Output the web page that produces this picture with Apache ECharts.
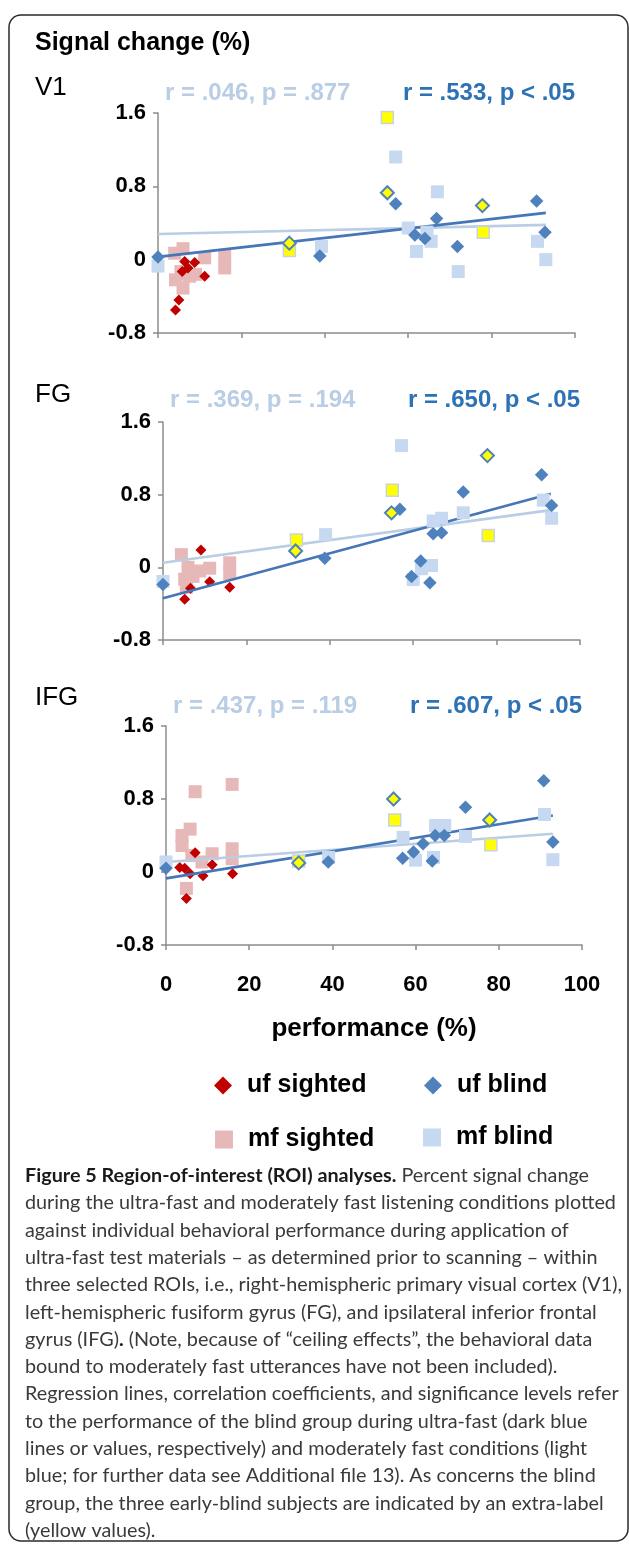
<!DOCTYPE html>
<html><head><meta charset="utf-8">
<script src="https://cdn.jsdelivr.net/npm/echarts@6/dist/echarts.min.js"></script>
<style>html,body{margin:0;padding:0;background:#fff}#c{width:629px;height:1545px}</style>
</head><body><div id="c"></div>
<script>
// ---------- DATA ----------
const xTicks = [0, 20, 40, 60, 80, 100];
const yTicks = [-0.8, 0, 0.8, 1.6];
const panelNames = ['V1', 'FG', 'IFG'];
const statsMf = ['r = .046, p = .877', 'r = .369, p = .194', 'r = .437, p = .119'];
const statsUf = ['r = .533, p < .05', 'r = .650, p < .05', 'r = .607, p < .05'];

// V1
const v1UfSighted = [[4.2,-0.55],[5.0,-0.44],[5.8,-0.13],[6.4,-0.02],[7.2,-0.09],[8.8,-0.03],[11.2,-0.18]];
const v1MfSighted = [[4.0,0.07],[6.0,0.12],[4.2,-0.22],[6.0,-0.31],[7.6,-0.18],[5.5,-0.13],[9.0,-0.16],[7.0,-0.16],[11.2,0.02],[16,0.04],[16,-0.09]];
const v1UfBlind = [[0,0.03],[38.8,0.04],[57,0.61],[61.6,0.27],[64,0.23],[66.8,0.45],[71.8,0.145],[90.8,0.64],[92.8,0.30]];
const v1UfBlindEarly = [[31.5,0.18],[55,0.73],[77.8,0.59]];
const v1MfBlind = [[0,-0.07],[39.2,0.145],[57,1.12],[60,0.345],[62,0.09],[64.5,0.30],[65.5,0.20],[67,0.74],[72,-0.13],[91,0.20],[93,0.0]];
const v1MfBlindEarly = [[31.5,0.10],[55,1.55],[78,0.30]];
const v1UfFit = [[0,0.03],[93,0.51]];
const v1MfFit = [[0,0.28],[93,0.38]];

// FG
const fgUfSighted = [[5.2,-0.35],[9.1,0.19],[16,-0.22],[11.2,-0.16],[6.6,-0.23]];
const fgMfSighted = [[4.4,0.14],[6,0.0],[8.8,-0.04],[11.2,-0.01],[16,0.05],[16,-0.07],[5.2,-0.13],[7.2,-0.10],[5.6,-0.22]];
const fgUfBlind = [[0,-0.19],[38.8,0.10],[56.8,0.64],[59.6,-0.10],[61.8,0.07],[64,-0.17],[64.8,0.37],[66.8,0.38],[72,0.83],[90.8,1.02],[93.2,0.68]];
const fgUfBlindEarly = [[31.8,0.18],[54.8,0.60],[77.8,1.23]];
const fgMfBlind = [[0,-0.155],[39,0.36],[57.2,1.34],[60,-0.135],[62,-0.015],[64.4,0.02],[64.8,0.51],[66.8,0.54],[72,0.60],[91.2,0.74],[93.2,0.54]];
const fgMfBlindEarly = [[32,0.30],[55,0.85],[78,0.35]];
const fgUfFit = [[0,-0.34],[93,0.81]];
const fgMfFit = [[0,0.05],[93,0.63]];

// IFG
const ifgUfSighted = [[3.3,0.05],[4.5,0.04],[5.8,-0.02],[7.0,0.21],[8.9,-0.04],[11.1,0.08],[16,-0.02],[4.9,-0.29]];
const ifgMfSighted = [[7.0,0.88],[15.9,0.96],[3.85,0.40],[5.8,0.47],[3.85,0.29],[11.1,0.20],[8.65,0.11],[15.9,0.255],[15.9,0.145],[4.9,-0.18],[6.2,0.18]];
const ifgUfBlind = [[0,0.04],[39,0.11],[56.9,0.15],[59.5,0.22],[61.8,0.31],[64,0.12],[64.7,0.40],[66.9,0.40],[72,0.71],[90.8,1.0],[93,0.33]];
const ifgUfBlindEarly = [[31.9,0.10],[54.7,0.80],[77.8,0.57]];
const ifgMfBlind = [[0,0.11],[39.1,0.16],[57,0.38],[60,0.13],[64.3,0.16],[64.8,0.51],[67,0.51],[72,0.39],[91,0.63],[93,0.135]];
const ifgMfBlindEarly = [[31.9,0.12],[55,0.57],[78.1,0.30]];
const ifgUfFit = [[0,-0.07],[93,0.62]];
const ifgMfFit = [[0,0.11],[93,0.42]];

const captionLines = [
  '{b|Figure 5 Region-of-interest (ROI) analyses.} Percent signal change',
  'during the ultra-fast and moderately fast listening conditions plotted',
  'against individual behavioral performance during application of',
  'ultra-fast test materials \u2013 as determined prior to scanning \u2013 within',
  'three selected ROIs, i.e., right-hemispheric primary visual cortex (V1),',
  'left-hemispheric fusiform gyrus (FG), and ipsilateral inferior frontal',
  'gyrus (IFG){b|.} (Note, because of \u201cceiling effects\u201d, the behavioral data',
  'bound to moderately fast utterances have not been included).',
  'Regression lines, correlation coefficients, and significance levels refer',
  'to the performance of the blind group during ultra-fast (dark blue',
  'lines or values, respectively) and moderately fast conditions (light',
  'blue; for further data see Additional file 13). As concerns the blind',
  'group, the three early-blind subjects are indicated by an extra-label',
  '(yellow values).'
];

// ---------- STYLE / LAYOUT ----------
const panels = [
  {grid:{left:158, top:113, width:417, height:220}, label:88, stat:93,
   ufS:v1UfSighted, mfS:v1MfSighted, ufB:v1UfBlind, ufE:v1UfBlindEarly, mfB:v1MfBlind, mfE:v1MfBlindEarly, ufF:v1UfFit, mfF:v1MfFit},
  {grid:{left:163, top:422, width:417, height:218}, label:395, stat:400,
   ufS:fgUfSighted, mfS:fgMfSighted, ufB:fgUfBlind, ufE:fgUfBlindEarly, mfB:fgMfBlind, mfE:fgMfBlindEarly, ufF:fgUfFit, mfF:fgMfFit},
  {grid:{left:166, top:726, width:416, height:219}, label:698, stat:706,
   ufS:ifgUfSighted, mfS:ifgMfSighted, ufB:ifgUfBlind, ufE:ifgUfBlindEarly, mfB:ifgMfBlind, mfE:ifgMfBlindEarly, ufF:ifgUfFit, mfF:ifgMfFit}
];
const C = {red:'#C00000', pink:'#E6B9B8', blue:'#4F81BD', light:'#C6D9F1', yellow:'#FFFF00',
           ufLine:'#4576B8', mfLine:'#B9CDE5', ufText:'#2C72B5', mfText:'#B9CDE5', axis:'#8C8C8C'};
const FONT = '"Liberation Sans", Arial, sans-serif';

const grids = [], xAxes = [], yAxes = [], series = [], graphic = [];
panels.forEach((p, i) => {
  grids.push(Object.assign({containLabel:false, outerBoundsMode:'none'}, p.grid));
  const last = i === panels.length - 1;
  xAxes.push({
    type:'value', gridIndex:i, min:xTicks[0], max:xTicks[xTicks.length-1], interval:xTicks[1]-xTicks[0],
    splitLine:{show:false},
    axisLine:{show:true, onZero:false, lineStyle:{color:C.axis, width:1.5}},
    axisTick:{show:true, length:5, lineStyle:{color:C.axis, width:1.5}},
    axisLabel:{show:last, margin:29, color:'#000', fontFamily:FONT, fontWeight:'bold', fontSize:22},
    name: last ? 'performance (%)' : '', nameLocation:'middle', nameGap:71,
    nameTextStyle:{color:'#000', fontFamily:FONT, fontWeight:'bold', fontSize:26}
  });
  yAxes.push({
    type:'value', gridIndex:i, min:yTicks[0], max:yTicks[yTicks.length-1], interval:yTicks[1]-yTicks[0],
    splitLine:{show:false},
    axisLine:{show:true, onZero:false, lineStyle:{color:C.axis, width:1.5}},
    axisTick:{show:true, length:5, lineStyle:{color:C.axis, width:1.5}},
    axisLabel:{margin:12, color:'#000', fontFamily:FONT, fontWeight:'bold', fontSize:22,
               formatter: v => String(Math.round(v*10)/10)}
  });
  const sc = (name, data, sym, size, color, bc, bw, z) => ({
    type:'scatter', name, data, xAxisIndex:i, yAxisIndex:i, symbol:sym, symbolSize:size, z,
    itemStyle:{color, borderColor:bc || color, borderWidth:bw || 0, opacity:1}, emphasis:{disabled:true}, silent:true
  });
  const ln = (name, data, color, z) => ({
    type:'line', name, data, xAxisIndex:i, yAxisIndex:i, showSymbol:false, symbol:'none', z,
    lineStyle:{color, width:2.6}, silent:true
  });
  series.push(sc('mf sighted', p.mfS, 'rect', 13, C.pink, null, 0, 2));
  series.push(sc('uf sighted', p.ufS, 'diamond', 11, C.red, null, 0, 3));
  series.push(ln('mf fit', p.mfF, C.mfLine, 4));
  series.push(ln('uf fit', p.ufF, C.ufLine, 4));
  series.push(sc('mf blind', p.mfB, 'rect', 13, C.light, null, 0, 5));
  series.push(sc('uf blind', p.ufB, 'diamond', 13.5, C.blue, null, 0, 6));
  series.push(sc('mf blind early', p.mfE, 'rect', 12, C.yellow, '#C9D3DE', 1.5, 7));
  series.push(sc('uf blind early', p.ufE, 'diamond', 13, C.yellow, C.blue, 2, 8));

  graphic.push({type:'text', x:35, y:p.label, style:{text:panelNames[i], fill:'#000',
    fontFamily:FONT, fontSize:26, verticalAlign:'middle'}});
  graphic.push({type:'text', x:p.grid.left + 7, y:p.stat, style:{text:statsMf[i], fill:C.mfText,
    fontFamily:FONT, fontWeight:'bold', fontSize:24, verticalAlign:'middle'}});
  graphic.push({type:'text', x:p.grid.left + p.grid.width, y:p.stat, style:{text:statsUf[i], fill:C.ufText,
    fontFamily:FONT, fontWeight:'bold', fontSize:24, verticalAlign:'middle', align:'right'}});
});

graphic.push({type:'rect', shape:{x:9, y:15, width:619, height:1526, r:12},
  style:{fill:'none', stroke:'#2a2a2a', lineWidth:1.5}, z:-1});
graphic.push({type:'text', x:35, y:43, style:{text:'Signal change (%)', fill:'#000',
  fontFamily:FONT, fontWeight:'bold', fontSize:25, verticalAlign:'middle'}});
graphic.push({type:'text', x:25, y:1162, style:{text:captionLines.join('\n'), fill:'#3a3a3a',
  fontFamily:'Lato', fontSize:19.8, lineHeight:27.3,
  rich:{b:{fontFamily:'Lato', fontWeight:'bold', fontSize:19.8, lineHeight:27.3, fill:'#1a1a1a'}}}});

const legendText = {fontFamily:FONT, fontWeight:'bold', fontSize:25, color:'#000', padding:[0,0,0,10]};
const legItem = (name, icon, left, top) => ({
  data:[{name, icon}], left, top, itemWidth:18, itemHeight:18, selectedMode:false, textStyle:legendText
});
const option = {
  animation:false,
  backgroundColor:'#fff',
  grid:grids, xAxis:xAxes, yAxis:yAxes, series,
  legend:[
    legItem('uf sighted', 'diamond', 209, 1068),
    legItem('uf blind', 'diamond', 419, 1068),
    legItem('mf sighted', 'rect', 210, 1122),
    legItem('mf blind', 'rect', 418, 1120)
  ],
  graphic
};
const chart = echarts.init(document.getElementById('c'), null, {renderer:'canvas'});
chart.setOption(option);
</script></body></html>
